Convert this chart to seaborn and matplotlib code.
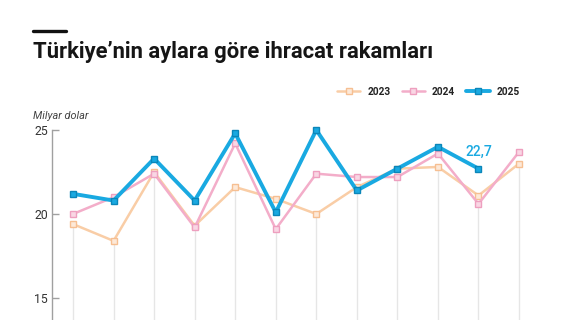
import numpy as np
import pandas as pd
import seaborn as sns
import matplotlib
matplotlib.use("Agg")
import matplotlib.pyplot as plt
from matplotlib.lines import Line2D
from matplotlib.legend_handler import HandlerLine2D

months = list(range(1, 13))
vals_2023 = [19.4, 18.4, 22.5, 19.3, 21.6, 20.9, 20.0, 21.6, 22.7, 22.8, 21.1, 23.0]
vals_2024 = [20.0, 21.0, 22.4, 19.2, 24.2, 19.1, 22.4, 22.2, 22.2, 23.6, 20.6, 23.7]
vals_2025 = [21.2, 20.8, 23.3, 20.8, 24.8, 20.1, 25.0, 21.4, 22.7, 24.0, 22.7]
last_label = "22,7"
y_ticks = [15, 20, 25]
title = "Türkiye\u2019nin aylara göre ihracat rakamları"
unit_label = "Milyar dolar"

series = [
    ("2023", vals_2023, "#f9cda6", "#fde9d8", "#f6bf92", 1.8, 4.6),
    ("2024", vals_2024, "#f3adc9", "#f9d6e4", "#ee9fbf", 1.8, 4.6),
    ("2025", vals_2025, "#19a9e1", "#19a9e1", "#0b86b9", 2.8, 4.3),
]

sns.set_theme(style="white")
plt.rcParams["font.family"] = ["Roboto", "DejaVu Sans"]

fig = plt.figure(figsize=(5.68, 3.2), dpi=100)
fig.patch.set_facecolor("white")
W, H = 568, 320
ax = fig.add_axes([52 / W, 0, (545 - 52) / W, (320 - 130) / H])

ax.set_xlim(0.482, 12.64)
ax.set_ylim(13.69, 25.0)

# vertical guide lines from bottom to lowest value of each month
all_vals = [vals_2023, vals_2024, vals_2025]
mins = []
for i, m in enumerate(months):
    v = [s[i] for s in all_vals if i < len(s)]
    mins.append(min(v))
ax.vlines(months, 13.69, mins, colors="#e6e6e6", linewidth=1, zorder=0)

handles = []
for k, (name, vals, col, face, edge, lw, ms) in enumerate(series):
    df = pd.DataFrame({"month": months[:len(vals)], "value": vals})
    sns.lineplot(data=df, x="month", y="value", ax=ax, color=col, linewidth=lw,
                 marker="s", markersize=ms, markerfacecolor=face,
                 markeredgecolor=edge, markeredgewidth=1.0, zorder=2 + k,
                 clip_on=False, legend=False)
    handles.append(Line2D([], [], color=col, linewidth=lw, marker="s",
                          markersize=ms, markerfacecolor=face,
                          markeredgecolor=edge, markeredgewidth=1.0, label=name))

# value label for the last 2025 point
ax.annotate(last_label, (len(vals_2025), vals_2025[-1]), xytext=(0, 9),
            textcoords="offset points", ha="center", va="baseline",
            color="#19a9e1", fontsize=10, fontweight="medium", annotation_clip=False)

for s in ["top", "right", "bottom"]:
    ax.spines[s].set_visible(False)
ax.spines["left"].set_color("#a0a0a0")
ax.spines["left"].set_linewidth(1)
ax.set_yticks(y_ticks)
ax.set_yticklabels([str(t) for t in y_ticks])
ax.set_xticks([])
ax.tick_params(axis="y", direction="in", length=5, width=1, color="#a0a0a0",
               labelcolor="#333333", labelsize=8.8, pad=3, left=True)
ax.set_xlabel("")
ax.set_ylabel("")
ax.set_facecolor("none")


class EndMarkerHandler(HandlerLine2D):
    def get_xdata(self, legend, xdescent, ydescent, width, height, fontsize):
        xdata = np.array([-xdescent, -xdescent + width])
        return xdata, np.array([-xdescent + width])


leg = fig.legend(handles=handles, loc="center right", bbox_to_anchor=(527 / W, 1 - 92 / H),
                 ncol=3, frameon=False, handlelength=2.3, handletextpad=0.7,
                 columnspacing=1.1, borderpad=0.2, prop={"weight": "bold", "size": 7.3},
                 handler_map={Line2D: EndMarkerHandler()})
for t in leg.get_texts():
    t.set_color("#222222")

# header
fig.add_artist(Line2D([33 / W, 66 / W], [1 - 31 / H, 1 - 31 / H], color="#111111",
                      linewidth=2.4, transform=fig.transFigure))
fig.text(33 / W, 1 - 58 / H, title, fontsize=15.8, fontweight="bold", color="#151515",
         va="baseline", ha="left")
fig.text(33 / W, 1 - 119 / H, unit_label, fontsize=7.8, style="italic", color="#444444",
         va="baseline", ha="left")

fig.savefig("out.png", dpi=100, facecolor="white")
